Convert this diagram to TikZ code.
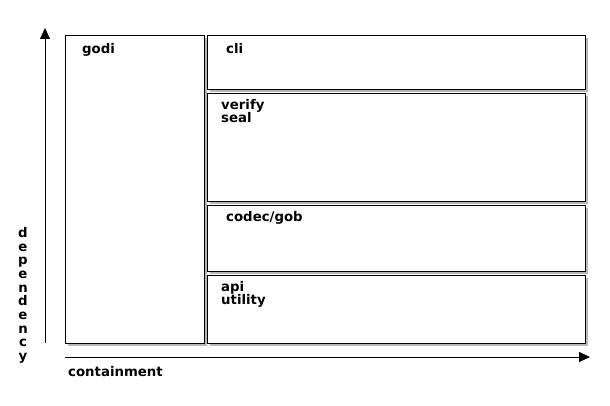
\documentclass[tikz,border=0pt]{standalone}
\usepackage{fontspec}
\setmainfont{DejaVu Sans}
\usetikzlibrary{arrows.meta,shadows}

\begin{document}
\begin{tikzpicture}[x=1pt,y=-1pt,
    layer/.style={rectangle,draw,line width=1.1pt,fill=white,anchor=north west,inner sep=0pt,
        drop shadow={shadow xshift=2pt,shadow yshift=-2pt,fill=black!40,opacity=0.7}},
    lbl/.style={anchor=base west,inner sep=0pt,font=\fontsize{13.3}{13}\selectfont\bfseries},
    axis/.style={line width=0.9pt,-{Triangle[length=11pt,width=10pt]}}]
    \useasboundingbox[fill=white] (0,0) rectangle (610,406);
    % boxes
    \begin{scope}[every node/.style={layer}]
        \node[minimum width=139pt,minimum height=308pt] (godibox) at (65,35) {};
        \node[minimum width=378pt,minimum height=54pt] (clibox) at (207,35) {};
        \node[minimum width=378pt,minimum height=108pt] (verifybox) at (207,93) {};
        \node[minimum width=378pt,minimum height=66pt] (codecbox) at (207,205) {};
        \node[minimum width=378pt,minimum height=68pt] (apibox) at (207,275) {};
    \end{scope}
    % labels
    \begin{scope}[every node/.style={lbl}]
        \node (godi) at (82,54) {godi};
        \node (cli) at (226,54) {cli};
        \node (verify) at (221,110) {verify};
        \node (seal) at (221,123) {seal};
        \node (codec) at (226,222) {codec/gob};
        \node (api) at (221,291) {api};
        \node (utility) at (221,304) {utility};
        \node (containment) at (68,376) {containment};
    \end{scope}
    \node[inner sep=0pt,anchor=north,align=center,font=\fontsize{13.3}{13.7}\selectfont\bfseries] (dependency) at (23,227) {d\\e\\p\\e\\n\\d\\e\\n\\c\\y};
    % axes
    \coordinate (dlow) at (45,343);
    \coordinate (dhigh) at (45,28);
    \coordinate (cleft) at (65,357);
    \coordinate (cright) at (590,357);
    \draw[axis] (dlow) -- (dhigh);
    \draw[axis] (cleft) -- (cright);
\end{tikzpicture}
\end{document}
